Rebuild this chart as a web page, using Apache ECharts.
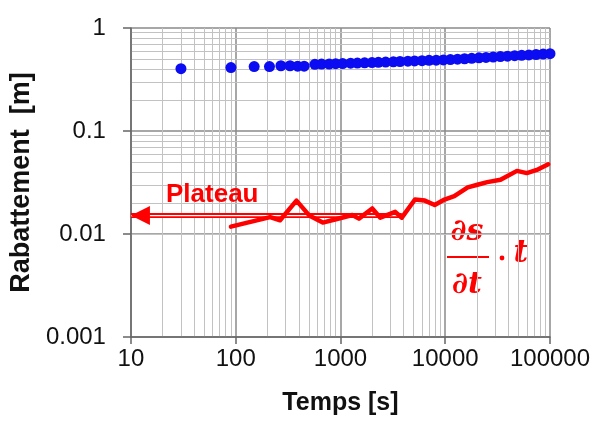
<!DOCTYPE html>
<html>
<head>
<meta charset="utf-8">
<script src="https://cdn.jsdelivr.net/npm/echarts@6/dist/echarts.min.js"></script>
<style>
  html, body { margin: 0; padding: 0; background: #fff; }
  #chart { width: 598px; height: 421px; }
</style>
</head>
<body>
<div id="chart"></div>
<script>
// Drawdown measurements (time in s, drawdown in m)
const drawTimes = [30, 90, 150, 210, 270, 330, 390, 450,
  570, 660, 780, 900, 1050, 1250, 1450, 1700, 2000, 2300, 2700, 3200, 3700, 4400,
  5100, 6000, 7000, 8200, 9600, 11200, 13100, 15300, 17900, 21000, 24500, 28700,
  33600, 39300, 46000, 53700, 62900, 73600, 86100, 100000];
const drawValues = [0.403, 0.413, 0.422, 0.422, 0.430, 0.430, 0.426, 0.426,
  0.444, 0.446, 0.447, 0.450, 0.452, 0.455, 0.457, 0.459, 0.462, 0.464, 0.467, 0.470, 0.473, 0.476,
  0.479, 0.482, 0.485, 0.487, 0.490, 0.494, 0.498, 0.503, 0.508, 0.513, 0.518, 0.523,
  0.528, 0.533, 0.538, 0.543, 0.548, 0.553, 0.558, 0.563];

// Log-derivative  ds/dt · t
const derivTimes = [90, 213, 265, 380, 508, 678, 906, 1300, 1500, 2010, 2400, 3330, 3850,
  5140, 6380, 7930, 9840, 12200, 16400, 20300, 25200, 33700, 48400, 60100, 74800, 96200];
const derivValues = [0.0118, 0.0146, 0.0136, 0.0211, 0.0150, 0.0129, 0.0139, 0.0153, 0.0141,
  0.0177, 0.0144, 0.0164, 0.0144, 0.0216, 0.0211, 0.0191, 0.0216, 0.0233, 0.0284, 0.0301,
  0.0319, 0.0336, 0.0410, 0.0390, 0.0419, 0.0475];

// Plateau level and the span of the plateau arrow
const plateauLevel = 0.0151;
const plateauSpan = [10, 3850];

// Axis ranges and tick labels
const xRange = [10, 100000];
const yRange = [0.001, 1];
const xTickLabels = ['10', '100', '1000', '10000', '100000'];
const yTickLabels = ['0.001', '0.01', '0.1', '1'];

// Minor log grid positions (2..9 within each decade)
function minorLines(lo, hi) {
  const out = [];
  for (let d = lo; d < hi; d *= 10) {
    for (let m = 2; m <= 9; m++) out.push(+(d * m).toPrecision(6));
  }
  return out;
}
const xMinor = minorLines(xRange[0], xRange[1]);
const yMinor = minorLines(yRange[0], yRange[1]);

function labelFor(list, v) {
  const e = Math.round(Math.log10(v));
  const s = list.find(t => Math.round(Math.log10(parseFloat(t))) === e);
  return s || '';
}

const FONT = '"Liberation Sans", Arial, sans-serif';
const MATH = '"DejaVu Serif", "Liberation Serif", serif';
const mathStyle = (text, size) => ({
  text: text, fontFamily: MATH, fontSize: size, fontStyle: 'italic',
  fontWeight: 'bold', fill: '#ff0000', align: 'center', verticalAlign: 'middle'
});

const chart = echarts.init(document.getElementById('chart'), null, { renderer: 'canvas' });

const series = [
  {
    // minor grid
    type: 'line',
    data: [],
    silent: true,
    markLine: {
      silent: true,
      z: 0,
      symbol: 'none',
      label: { show: false },
      lineStyle: { color: '#c2c2c2', width: 1, type: 'solid' },
      emphasis: { disabled: true },
      data: xMinor.map(v => ({ xAxis: v })).concat(yMinor.map(v => ({ yAxis: v })))
    }
  },
  {
    name: 'plateau-shaft',
    type: 'line',
    data: [[plateauSpan[0], plateauLevel], [plateauSpan[1], plateauLevel]],
    symbol: 'none',
    silent: true,
    z: 3,
    lineStyle: { color: '#ff0000', width: 5 }
  },
  {
    name: 'plateau-gap',
    type: 'line',
    data: [[plateauSpan[0], plateauLevel], [plateauSpan[1], plateauLevel]],
    symbol: 'none',
    silent: true,
    z: 4,
    lineStyle: { color: '#ffffff', width: 1.3 }
  },
  {
    name: 'plateau-head',
    type: 'scatter',
    data: [[plateauSpan[0], plateauLevel]],
    symbol: 'triangle',
    symbolSize: [19, 19],
    symbolRotate: 90,
    symbolOffset: [9.5, 0],
    silent: true,
    z: 5,
    itemStyle: { color: '#ff0000', opacity: 1 }
  },
  {
    name: 'derivative',
    type: 'line',
    data: derivTimes.map((t, i) => [t, derivValues[i]]),
    symbol: 'none',
    z: 6,
    lineStyle: { color: '#ff0000', width: 4.5, join: 'round', cap: 'round' }
  },
  {
    name: 'drawdown',
    type: 'scatter',
    data: drawTimes.map((t, i) => [t, drawValues[i]]),
    symbol: 'circle',
    symbolSize: 11,
    z: 7,
    itemStyle: { color: '#0c0cf2', opacity: 1 }
  }
];

chart.setOption({
  animation: false,
  backgroundColor: '#ffffff',
  grid: { left: 126, right: 48, top: 28, bottom: 80, containLabel: false },
  xAxis: {
    type: 'log',
    logBase: 10,
    min: xRange[0],
    max: xRange[1],
    name: 'Temps [s]',
    nameLocation: 'middle',
    nameGap: 54,
    nameTextStyle: { fontFamily: FONT, fontSize: 25, fontWeight: 'bold', color: '#111' },
    axisLine: { show: true, onZero: false, lineStyle: { color: '#666', width: 1.5 } },
    axisTick: { show: true, length: 7, lineStyle: { color: '#666', width: 1.5 } },
    axisLabel: {
      fontFamily: FONT, fontSize: 24, color: '#111', margin: 10,
      formatter: v => labelFor(xTickLabels, v)
    },
    splitLine: { show: true, lineStyle: { color: '#8a8a8a', width: 1.5 } }
  },
  yAxis: {
    type: 'log',
    logBase: 10,
    min: yRange[0],
    max: yRange[1],
    name: 'Rabattement  [m]',
    nameLocation: 'middle',
    nameGap: 82,
    nameTextStyle: { fontFamily: FONT, fontSize: 27, fontWeight: 'bold', color: '#111' },
    axisLine: { show: true, onZero: false, lineStyle: { color: '#666', width: 1.5 } },
    axisTick: { show: true, length: 8, lineStyle: { color: '#666', width: 1.5 } },
    axisLabel: {
      fontFamily: FONT, fontSize: 24, color: '#111', margin: 25,
      formatter: v => labelFor(yTickLabels, v)
    },
    splitLine: { show: true, lineStyle: { color: '#8a8a8a', width: 1.5 } }
  },
  series: series,
  graphic: [
    {
      type: 'text', left: 166, top: 182, z: 10, silent: true,
      style: { text: 'Plateau', fontFamily: FONT, fontSize: 26, fontWeight: 'bold', fill: '#ff0000' }
    },
    {
      type: 'group', x: 444, y: 208, z: 10, silent: true,
      children: [
        { type: 'text', x: 23, y: 24, style: mathStyle('∂s', 30) },
        { type: 'line', shape: { x1: 3, y1: 49, x2: 45, y2: 49 }, style: { stroke: '#ff0000', lineWidth: 2.2 } },
        { type: 'text', x: 23, y: 77, style: mathStyle('∂t', 30) },
        { type: 'circle', shape: { cx: 58, cy: 50, r: 2.4 }, style: { fill: '#ff0000' } },
        { type: 'text', x: 77, y: 46, style: mathStyle('t', 32) }
      ]
    }
  ]
});
</script>
</body>
</html>
